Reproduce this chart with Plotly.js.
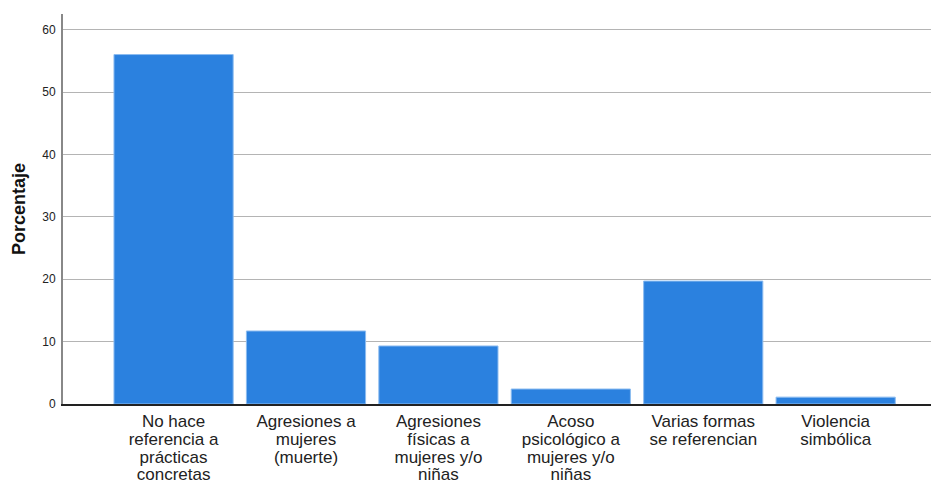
<!DOCTYPE html>
<html><head><meta charset="utf-8">
<script src="https://cdn.plot.ly/plotly-3.0.1.min.js"></script>
<style>html,body{margin:0;padding:0;background:#fff}#c{width:931px;height:484px}</style>
</head><body><div id="c"></div>
<script>
const categories = [
  "No hace<br>referencia a<br>prácticas<br>concretas",
  "Agresiones a<br>mujeres<br>(muerte)",
  "Agresiones<br>físicas a<br>mujeres y/o<br>niñas",
  "Acoso<br>psicológico a<br>mujeres y/o<br>niñas",
  "Varias formas<br>se referencian",
  "Violencia<br>simbólica"
];
const porcentaje = [56.0, 11.7, 9.3, 2.4, 19.7, 1.1];
const yTicks = [0, 10, 20, 30, 40, 50, 60];

function tightenLines() {
  document.querySelectorAll('#c .xtick text tspan.line').forEach(function (t) {
    const dy = t.getAttribute('dy');
    if (!dy) return;
    const v = parseFloat(dy);
    if (!isNaN(v) && v !== 0) t.setAttribute('dy', (v * 1.05 / 1.3).toFixed(3) + 'em');
  });
}

Plotly.newPlot('c', [{
  type: 'bar',
  x: categories,
  y: porcentaje,
  marker: {color: '#2b81df', line: {color: '#8cbcf0', width: 1}},
  hoverinfo: 'none'
}], {
  width: 931, height: 484,
  margin: {l: 63, r: 0, t: 14, b: 80},
  paper_bgcolor: '#fff', plot_bgcolor: '#fff',
  bargap: 0.1,
  showlegend: false,
  xaxis: {
    range: [-0.835, 5.72],
    tickfont: {family: 'Liberation Sans, Arial, sans-serif', size: 17, color: '#222'},
    showline: true, linecolor: '#222', linewidth: 1.5,
    ticks: '', showgrid: false, tickangle: 0, automargin: false,
    ticklabelstandoff: 1
  },
  yaxis: {
    range: [0, 62.5],
    tickvals: yTicks,
    ticktext: yTicks.map(String),
    tickfont: {family: 'Liberation Sans, Arial, sans-serif', size: 12, color: '#222'},
    showline: true, linecolor: '#888', linewidth: 2,
    showgrid: true, gridcolor: '#b4b4b4', gridwidth: 1,
    zeroline: false, ticks: 'outside', ticklen: 3, tickcolor: 'rgba(0,0,0,0)',
    automargin: false,
    title: {text: '<b>Porcentaje</b>', font: {family: 'Liberation Sans, Arial, sans-serif', size: 18, color: '#111'}, standoff: 12}
  }
}, {staticPlot: true}).then(tightenLines);
</script>
</body></html>
